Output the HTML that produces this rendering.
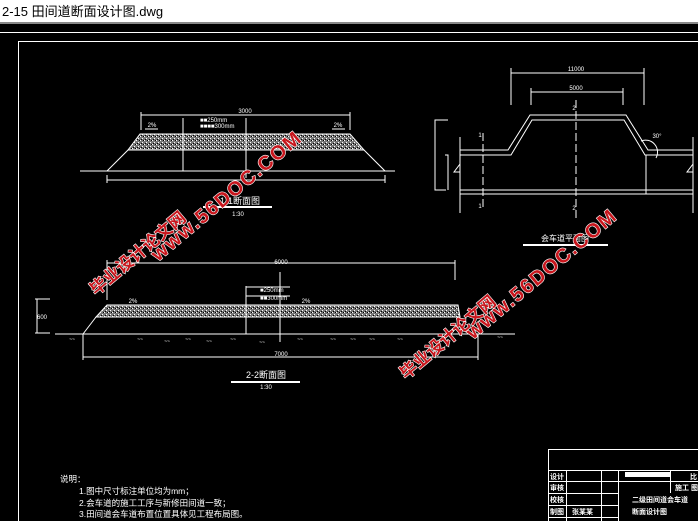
<!DOCTYPE html>
<html><head><meta charset="utf-8"><style>
html,body{margin:0;padding:0;width:698px;height:521px;overflow:hidden;background:#000}
svg{display:block}
</style></head><body>
<svg width="698" height="521" viewBox="0 0 698 521" xmlns="http://www.w3.org/2000/svg" font-family="Liberation Sans, Noto Sans CJK SC, sans-serif">
<defs>
<pattern id="dots" width="4" height="4" patternUnits="userSpaceOnUse">
<rect width="4" height="4" fill="#777"/>
<rect x="0" y="0" width="1" height="1" fill="#fff"/><rect x="2" y="2" width="1" height="1" fill="#fff"/><rect x="3" y="0" width="1" height="1" fill="#000"/><rect x="1" y="3" width="1" height="1" fill="#000"/>
</pattern>
</defs>
<rect x="0" y="0" width="698" height="22" fill="#fff"/>
<text x="2" y="16" font-size="13" fill="#000" font-family="Liberation Sans, Noto Sans CJK SC, sans-serif">2-15 田间道断面设计图.dwg</text>
<rect x="0" y="22" width="698" height="2" fill="#888"/>
<g stroke="#fff" stroke-width="1" fill="none">
<line x1="0" y1="32.5" x2="698" y2="32.5"/>
<polyline points="18.5,521 18.5,41.5 698,41.5"/>

<line x1="141" y1="115" x2="350" y2="115"/>
<line x1="141" y1="112" x2="141" y2="130"/><line x1="350" y1="112" x2="350" y2="130"/>
<polygon points="140,134 350,134 364,150 128,150" fill="url(#dots)"/>
<polyline points="128,150 107,171"/><polyline points="364,150 385,171"/>
<line x1="80" y1="171" x2="395" y2="171"/>
<line x1="107" y1="180" x2="385" y2="180"/>
<line x1="107" y1="175" x2="107" y2="183"/><line x1="385" y1="175" x2="385" y2="183"/>
<line x1="246" y1="118" x2="246" y2="178"/>
<line x1="183" y1="118" x2="183" y2="171"/>
<line x1="203" y1="207" x2="272" y2="207" stroke-width="2"/>
<line x1="145" y1="129" x2="158" y2="129"/><line x1="332" y1="129" x2="345" y2="129"/>

<line x1="511" y1="73" x2="644" y2="73"/>
<line x1="511" y1="68" x2="511" y2="105"/><line x1="644" y1="68" x2="644" y2="105"/>
<line x1="531" y1="92" x2="623" y2="92"/>
<line x1="531" y1="88" x2="531" y2="105"/><line x1="623" y1="88" x2="623" y2="105"/>
<polyline points="460,150 508,150 530,115 626,115 648,150 693,150"/>
<polyline points="460,155 511,155 532,120 624,120 645,155 693,155"/>
<line x1="460" y1="190" x2="693" y2="190"/><line x1="460" y1="194" x2="693" y2="194"/>
<line x1="460" y1="137" x2="460" y2="213"/><line x1="693" y1="137" x2="693" y2="213"/>
<polyline points="460,164 454,172 460,172"/><polyline points="693,164 687,172 693,172"/>
<line x1="646" y1="155" x2="646" y2="194"/>
<line x1="576" y1="100" x2="576" y2="220" stroke-dasharray="8,3"/>
<line x1="483" y1="133" x2="483" y2="210" stroke-dasharray="8,3"/>
<polyline points="435,120 448,120 435,120 435,190 446,190"/>
<polyline points="445,155 448,155 448,190"/>
<path d="M641,141 A12,12 0 0 1 656,158" />
<line x1="523" y1="245" x2="608" y2="245" stroke-width="2"/>

<line x1="107" y1="263" x2="455" y2="263"/>
<line x1="107" y1="260" x2="107" y2="300"/><line x1="455" y1="260" x2="455" y2="280"/>
<polygon points="107,305 458,305 460,317 96,317" fill="url(#dots)"/>
<line x1="96" y1="317" x2="83" y2="334"/>
<line x1="55" y1="334" x2="515" y2="334"/>
<line x1="83" y1="357" x2="478" y2="357"/>
<line x1="83" y1="334" x2="83" y2="360"/><line x1="478" y1="334" x2="478" y2="360"/>
<line x1="280" y1="272" x2="280" y2="342"/>
<line x1="246" y1="286" x2="246" y2="334"/>
<line x1="246" y1="287" x2="290" y2="287"/><line x1="246" y1="296" x2="290" y2="296"/>
<line x1="37" y1="299" x2="37" y2="333"/>
<line x1="35" y1="299" x2="50" y2="299"/><line x1="35" y1="333" x2="50" y2="333"/>
<line x1="231" y1="382" x2="300" y2="382" stroke-width="2"/>

<rect x="548.5" y="449.5" width="160" height="80"/>
<line x1="548" y1="470.5" x2="698" y2="470.5"/>
<line x1="548" y1="481.5" x2="698" y2="481.5"/>
<line x1="548" y1="493.5" x2="618" y2="493.5"/>
<line x1="548" y1="505.5" x2="618" y2="505.5"/>
<line x1="548" y1="517.5" x2="618" y2="517.5"/>
<line x1="566.5" y1="470" x2="566.5" y2="521"/>
<line x1="601.5" y1="470" x2="601.5" y2="521"/>
<line x1="618.5" y1="470" x2="618.5" y2="521"/>
<line x1="670.5" y1="470" x2="670.5" y2="493"/>
</g>
<rect x="625" y="472" width="45" height="5" fill="#fff"/>
<g fill="#fff" font-size="6" text-anchor="middle">
<text x="245" y="113">3000</text>
<text x="152" y="127">2%</text><text x="338" y="127">2%</text>
<text x="200" y="122" text-anchor="start">■■250mm</text>
<text x="200" y="128" text-anchor="start">■■■■300mm</text>
<text x="240" y="204" font-size="9">1-1断面图</text>
<text x="238" y="216">1:30</text>
<text x="576" y="71">11000</text><text x="576" y="90">5000</text>
<text x="574" y="110">2</text><text x="574" y="210">2</text>
<text x="480" y="137">1</text><text x="480" y="208">1</text>
<text x="657" y="138">30°</text>
<text x="565" y="241" font-size="8">会车道平面图</text>
<text x="281" y="264">6000</text><text x="281" y="356">7000</text>
<text x="260" y="292" text-anchor="start">■250mm</text>
<text x="260" y="300" text-anchor="start">■■300mm</text>
<text x="133" y="303">2%</text><text x="306" y="303">2%</text>
<text x="266" y="378" font-size="9">2-2断面图</text>
<text x="266" y="389">1:30</text>
<text x="42" y="319">600</text>
</g>
<g fill="#fff" font-size="5" text-anchor="middle">
<text x="72" y="341">~~</text><text x="140" y="341">~~</text><text x="167" y="343">~~</text><text x="188" y="341">~~</text><text x="209" y="343">~~</text><text x="233" y="341">~~</text><text x="262" y="344">~~</text><text x="300" y="341">~~</text><text x="333" y="341">~~</text><text x="353" y="341">~~</text><text x="372" y="341">~~</text><text x="400" y="341">~~</text><text x="500" y="339">~~</text>
</g>
<g fill="#fff" font-size="8.5" font-family="Liberation Sans, Noto Sans CJK SC, sans-serif">
<text x="60" y="482">说明：</text>
<text x="79" y="494">1.图中尺寸标注单位均为mm；</text>
<text x="79" y="506">2.会车道的施工工序与新修田间道一致；</text>
<text x="79" y="517">3.田间道会车道布置位置具体见工程布局图。</text>
</g>
<g fill="#fff" font-size="7" font-weight="bold">
<text x="550" y="479">设计</text><text x="550" y="490">审核</text><text x="550" y="502">校核</text><text x="550" y="514">制图</text>
<text x="572" y="514">张某某</text>
<text x="632" y="502">二级田间道会车道</text><text x="632" y="514">断面设计图</text>
<text x="675" y="490">施工 图</text><text x="690" y="479">比</text>
</g>
<g font-weight="bold" fill="#c8161d" stroke="#fff" stroke-width="1.2" paint-order="stroke" font-family="Liberation Sans, Noto Sans CJK SC, sans-serif">
<text transform="translate(158,262) rotate(-40)" font-size="20" letter-spacing="1.5">www.56DOC.COM</text>
<text transform="translate(96,296) rotate(-40)" font-size="17">毕业设计论文网</text>
<text transform="translate(473,340) rotate(-40)" font-size="20" letter-spacing="1.5">www.56DOC.COM</text>
<text transform="translate(406,380) rotate(-40)" font-size="17">毕业设计论文网</text>
</g>
</svg>
</body></html>
